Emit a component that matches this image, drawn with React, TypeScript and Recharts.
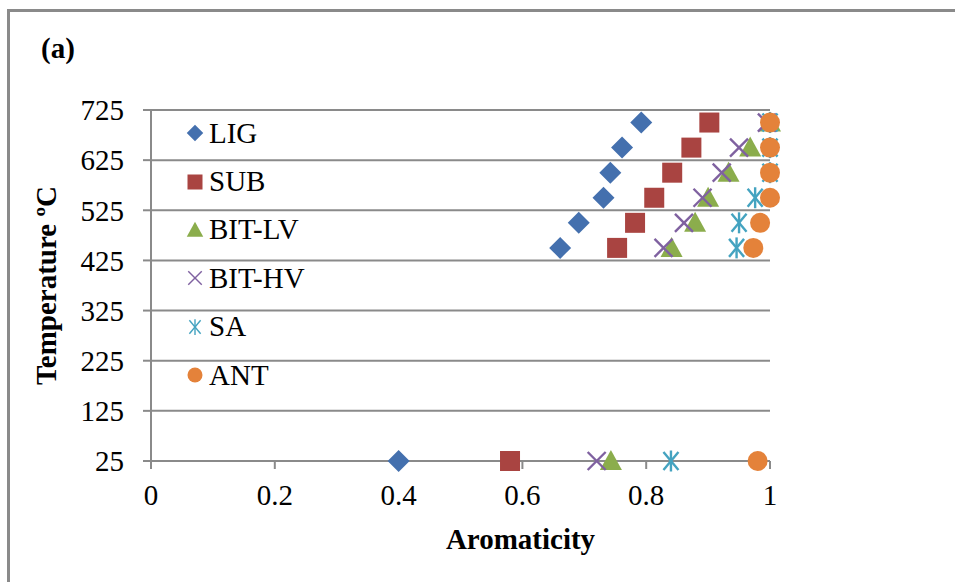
import React from 'react';
import { ScatterChart, Scatter, XAxis, YAxis, CartesianGrid } from 'recharts';

const TEMPS = [25, 450, 500, 550, 600, 650, 700];
const LIG = [0.40, 0.661, 0.691, 0.731, 0.742, 0.761, 0.792];
const SUB = [0.58, 0.753, 0.782, 0.813, 0.842, 0.873, 0.902];
const BIT_LV = [0.743, 0.841, 0.879, 0.9, 0.933, 0.968, 1.0];
const BIT_HV = [0.72, 0.828, 0.861, 0.891, 0.922, 0.95, 0.995];
const SA = [0.84, 0.946, 0.95, 0.976, 1.0, 1.0, 1.0];
const ANT = [0.98, 0.973, 0.984, 1.0, 1.0, 1.0, 1.0];

const X_TICKS = [0, 0.2, 0.4, 0.6, 0.8, 1];
const Y_TICKS = [25, 125, 225, 325, 425, 525, 625, 725];

const FONT = '"Liberation Serif", "Times New Roman", serif';
const AXIS_GRAY = '#8a8a8a';
const FS = 29;

type Kind = 'diamond' | 'square' | 'triangle' | 'x' | 'star' | 'circle';

const SERIES: { name: string; values: number[]; color: string; kind: Kind }[] = [
  { name: 'LIG', values: LIG, color: '#4470AE', kind: 'diamond' },
  { name: 'SUB', values: SUB, color: '#A94441', kind: 'square' },
  { name: 'BIT-LV', values: BIT_LV, color: '#8BAD4C', kind: 'triangle' },
  { name: 'BIT-HV', values: BIT_HV, color: '#7F61A0', kind: 'x' },
  { name: 'SA', values: SA, color: '#44A3C0', kind: 'star' },
  { name: 'ANT', values: ANT, color: '#E4823A', kind: 'circle' },
];

function Marker({ cx, cy, kind, color, s }: { cx: number; cy: number; kind: Kind; color: string; s: number }) {
  switch (kind) {
    case 'diamond':
      return <polygon points={`${cx},${cy - s * 1.1} ${cx + s * 1.1},${cy} ${cx},${cy + s * 1.1} ${cx - s * 1.1},${cy}`} fill={color} />;
    case 'square':
      return <rect x={cx - s} y={cy - s} width={s * 2} height={s * 2} fill={color} />;
    case 'triangle':
      return <polygon points={`${cx},${cy - s * 1.1} ${cx + s * 1.1},${cy + s * 0.9} ${cx - s * 1.1},${cy + s * 0.9}`} fill={color} />;
    case 'x':
      return (
        <g stroke={color} strokeWidth={s > 8 ? 2.4 : 1.4}>
          <line x1={cx - s * 0.9} y1={cy - s * 0.9} x2={cx + s * 0.9} y2={cy + s * 0.9} />
          <line x1={cx - s * 0.9} y1={cy + s * 0.9} x2={cx + s * 0.9} y2={cy - s * 0.9} />
        </g>
      );
    case 'star':
      return (
        <g stroke={color} strokeWidth={s > 8 ? 2.4 : 1.4}>
          <line x1={cx} y1={cy - s * 1.05} x2={cx} y2={cy + s * 1.05} />
          <line x1={cx - s * 0.75} y1={cy - s * 0.9} x2={cx + s * 0.75} y2={cy + s * 0.9} />
          <line x1={cx - s * 0.75} y1={cy + s * 0.9} x2={cx + s * 0.75} y2={cy - s * 0.9} />
        </g>
      );
    case 'circle':
    default:
      return <circle cx={cx} cy={cy} r={s} fill={color} />;
  }
}

function LegendBox() {
  return (
    <div style={{ position: 'absolute', left: 184, top: 109, fontFamily: FONT, fontSize: FS, color: '#000' }}>
      {SERIES.map((s) => (
        <div key={s.name} style={{ height: 48.4, display: 'flex', alignItems: 'center' }}>
          <svg width={22} height={22} style={{ marginRight: 3 }}>
            <Marker cx={11} cy={11} kind={s.kind} color={s.color} s={7.5} />
          </svg>
          <span style={{ lineHeight: '29px' }}>{s.name}</span>
        </div>
      ))}
    </div>
  );
}

export default function App() {
  return (
    <div style={{ position: 'absolute', left: 0, top: 0, width: 955, height: 582, background: '#fff', overflow: 'hidden' }}>
      <div
        style={{
          position: 'absolute',
          left: 7,
          top: 9,
          width: 1000,
          height: 700,
          borderTop: `3px solid ${AXIS_GRAY}`,
          borderLeft: `3px solid ${AXIS_GRAY}`,
        }}
      />
      <div
        style={{
          position: 'absolute',
          left: 41,
          top: 30,
          fontFamily: FONT,
          fontWeight: 'bold',
          fontSize: 29,
          lineHeight: '36px',
          color: '#000',
        }}
      >
        (a)
      </div>
      <div style={{ position: 'absolute', left: 0, top: 0 }}>
        <ScatterChart width={955} height={582} margin={{ top: 110, right: 185, bottom: 21, left: 0 }}>
          <CartesianGrid vertical={false} stroke={AXIS_GRAY} strokeWidth={2} />
          <XAxis
            type="number"
            dataKey="x"
            domain={[0, 1]}
            ticks={X_TICKS}
            height={100}
            tickSize={8}
            tickMargin={15}
            interval={0}
            stroke={AXIS_GRAY}
            strokeWidth={2}
            tick={{ fill: '#000', fontFamily: FONT, fontSize: FS }}
            label={{
              content: (props: any) => {
                const vb = props.viewBox;
                return (
                  <text
                    x={vb.x + vb.width / 2 + 60}
                    y={vb.y + 88}
                    textAnchor="middle"
                    fontFamily={FONT}
                    fontWeight="bold"
                    fontSize={FS}
                    fill="#000"
                  >
                    Aromaticity
                  </text>
                );
              },
            }}
          />
          <YAxis
            type="number"
            dataKey="y"
            domain={[25, 725]}
            ticks={Y_TICKS}
            width={151}
            tickSize={8}
            tickMargin={19}
            interval={0}
            stroke={AXIS_GRAY}
            strokeWidth={2}
            tick={{ fill: '#000', fontFamily: FONT, fontSize: FS }}
            label={{
              content: (props: any) => {
                const vb = props.viewBox;
                const cx = vb.x + 46;
                const cy = vb.y + vb.height / 2;
                return (
                  <text
                    x={cx}
                    y={cy}
                    transform={`rotate(-90, ${cx}, ${cy})`}
                    textAnchor="middle"
                    dominantBaseline="central"
                    fontFamily={FONT}
                    fontWeight="bold"
                    fontSize={FS}
                    fill="#000"
                  >
                    Temperature ºC
                  </text>
                );
              },
            }}
          />
          {SERIES.map((s) => (
            <Scatter
              key={s.name}
              name={s.name}
              data={TEMPS.map((t, i) => ({ x: s.values[i], y: t }))}
              fill={s.color}
              isAnimationActive={false}
              shape={(p: any) => <Marker cx={p.cx} cy={p.cy} kind={s.kind} color={s.color} s={10} />}
            />
          ))}
        </ScatterChart>
      </div>
      <LegendBox />
    </div>
  );
}
